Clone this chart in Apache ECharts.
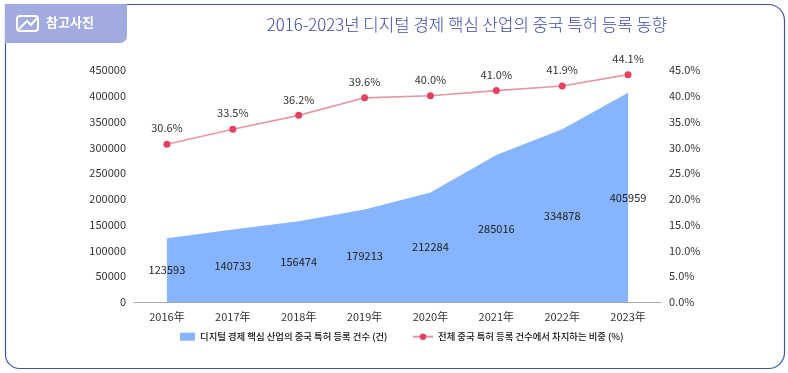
<!DOCTYPE html>
<html>
<head>
<meta charset="utf-8">
<style>html,body{margin:0;padding:0;background:#fff}#main{width:788px;height:373px}</style>
<script src="https://cdn.jsdelivr.net/npm/echarts@6/dist/echarts.min.js"></script>
</head>
<body>
<div id="main"></div>
<script>
var years = ['2016年', '2017年', '2018年', '2019年', '2020年', '2021年', '2022年', '2023年'];
var patents = [123593, 140733, 156474, 179213, 212284, 285016, 334878, 405959];
var shares = [30.6, 33.5, 36.2, 39.6, 40.0, 41.0, 41.9, 44.1];
var patentLabelY = [61800, 70400, 78200, 89600, 106100, 142500, 167400, 203000]; // where the numbers sit inside the area
var areaName = '디지털 경제 핵심 산업의 중국 특허 등록 건수 (건)';
var lineName = '전체 중국 특허 등록 건수에서 차지하는 비중 (%)';
var font = '"Noto Sans CJK KR"';

var myChart = echarts.init(document.getElementById('main'));
myChart.setOption({
    animation: false,
    backgroundColor: '#fff',
    textStyle: { fontFamily: font },
    title: {
        text: '2016-2023년 디지털 경제 핵심 산업의 중국 특허 등록 동향',
        left: 462, top: 11, textAlign: 'center',
        textStyle: { color: '#3a4aa8', fontSize: 16.8, fontWeight: 300, fontFamily: font }
    },
    graphic: [
        { type: 'rect', shape: { x: 5.5, y: 4.5, width: 779, height: 364, r: [0, 16, 16, 14] },
          style: { fill: 'none', stroke: '#3f55b5', lineWidth: 1.2 }, z: 0 },
        { type: 'rect', shape: { x: 5, y: 4, width: 122, height: 39, r: [0, 0, 7, 0] },
          style: { fill: '#a1abdf' }, z: 1 },
        { type: 'rect', shape: { x: 17, y: 16, width: 21, height: 15, r: 3 },
          style: { fill: 'none', stroke: '#fff', lineWidth: 2 }, z: 2 },
        { type: 'polyline', shape: { points: [[19, 29], [27, 21], [31, 25], [37, 18]] },
          style: { fill: 'none', stroke: '#fff', lineWidth: 2 }, z: 2 },
        { type: 'text', x: 46, y: 16,
          style: { text: '참고사진', fill: '#fff', font: 'bold 13px "Noto Sans CJK KR"' }, z: 2 }
    ],
    legend: [{
        data: [{ name: areaName, icon: 'rect' }],
        left: 175, top: 327, itemGap: 0, itemWidth: 15, itemHeight: 8,
        textStyle: { color: '#111', fontSize: 9.4, fontWeight: 500, fontFamily: font }
    }, {
        data: [lineName],
        left: 407, top: 327, itemGap: 0, itemWidth: 20, itemHeight: 8,
        textStyle: { color: '#111', fontSize: 9.4, fontWeight: 500, fontFamily: font }
    }],
    grid: { left: 134, right: 127, top: 70, bottom: 71 },
    xAxis: {
        type: 'category', data: years, boundaryGap: true,
        axisLine: { lineStyle: { color: '#aaa' } },
        axisTick: { show: false },
        axisLabel: { color: '#333', fontSize: 11, margin: 9, interval: 0 }
    },
    yAxis: [{
        type: 'value', min: 0, max: 450000, interval: 50000,
        axisLine: { show: false }, axisTick: { show: false }, splitLine: { show: false },
        axisLabel: { color: '#333', fontSize: 11, margin: 8,
            formatter: function (v) { return String(v); } }
    }, {
        type: 'value', min: 0, max: 45, interval: 5,
        axisLine: { show: false }, axisTick: { show: false }, splitLine: { show: false },
        axisLabel: { color: '#333', fontSize: 11, margin: 8,
            formatter: function (v) { return v.toFixed(1) + '%'; } }
    }],
    series: [{
        name: areaName, type: 'line', data: patents, symbol: 'none',
        lineStyle: { width: 0 }, itemStyle: { color: '#86b4fd' },
        areaStyle: { color: '#86b4fd', opacity: 1 }
    }, {
        name: 'patentLabels', type: 'line', data: patentLabelY, z: 5,
        symbol: 'circle', symbolSize: 1, showSymbol: true, lineStyle: { width: 0 },
        itemStyle: { color: 'transparent' },
        label: { show: true, position: 'inside', color: '#222', fontSize: 11,
            formatter: function (p) { return String(patents[p.dataIndex]); } }
    }, {
        name: lineName, type: 'line', yAxisIndex: 1, data: shares, z: 6,
        symbol: 'circle', symbolSize: 7,
        lineStyle: { color: '#e597a6', width: 1.6 }, itemStyle: { color: '#e5405e' },
        label: { show: true, position: 'top', distance: 7, color: '#333', fontSize: 11,
            formatter: function (p) { return p.value.toFixed(1) + '%'; } }
    }]
});
</script>
</body>
</html>
